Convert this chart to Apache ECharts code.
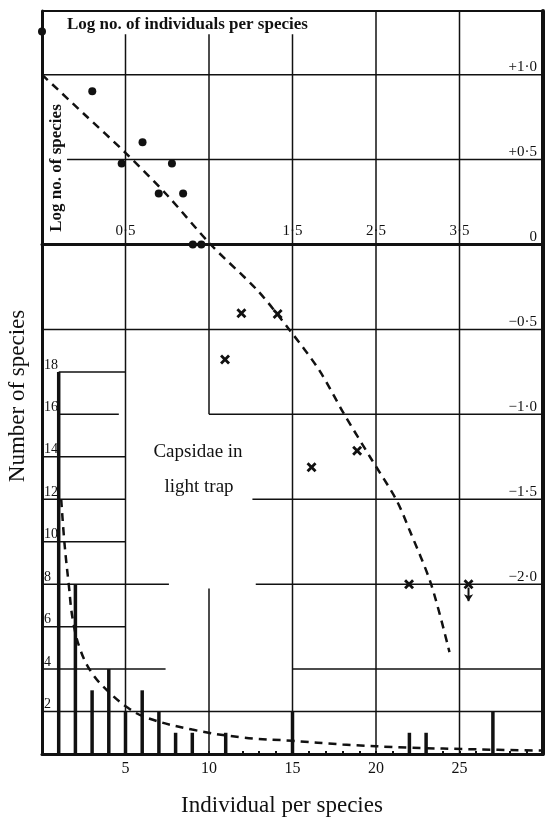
<!DOCTYPE html>
<html>
<head>
<meta charset="utf-8">
<script src="https://cdn.jsdelivr.net/npm/echarts@6/dist/echarts.min.js"></script>
<style>
html,body{margin:0;padding:0;background:#fff;}
#main{width:546px;height:817px;}
</style>
</head>
<body>
<div id="main"></div>
<script>
// lower plot: individuals per species vs number of species
var individuals = [1,2,3,4,5,6,7,8,9,10,11,12,13,14,15,16,17,18,19,20,21,22,23,24,25,26,27,28,29,30];
var speciesCount = [18,8,3,4,2,3,2,1,1,0,1,0,0,0,2,0,0,0,0,0,0,1,1,0,0,0,2,0,0,0];
// fitted curve (lower plot)
var fitX = [1.15,1.35,1.6,1.85,2.3,3.0,3.9,5.1,6.3,9,12,15,18,22,26,30];
var fitY = [12,9.9,8.0,6.3,4.9,3.8,3.0,2.2,1.7,1.15,0.78,0.62,0.45,0.3,0.22,0.16];
// upper plot: log individuals vs log species
var logDotX = [0,0.301,0.477,0.602,0.699,0.778,0.845,0.903,0.954];
var logDotY = [1.255,0.903,0.477,0.602,0.301,0.477,0.301,0,0];
var logCrossX = [1.096,1.194,1.411,1.614,1.887,2.198,2.554];
var logCrossY = [-0.677,-0.405,-0.409,-1.311,-1.214,-2.0,-2.0];
var logFitX = [0,0.25,0.5,0.75,1.01,1.29,1.48,1.66,1.81,1.97,2.12,2.2,2.33,2.44];
var logFitY = [1.0,0.77,0.54,0.29,0,-0.27,-0.5,-0.74,-1.0,-1.26,-1.5,-1.68,-2.0,-2.4];
// tick labels
var bottomLabels = {5:'5',10:'10',15:'15',20:'20',25:'25'};
var countLabels = {2:'2',4:'4',6:'6',8:'8',10:'10',12:'12',14:'14',16:'16',18:'18'};
var logXLabels = {'0.5':'0·5','1.5':'1·5','2':'2·5','2.5':'3·5'};
var logYLabels = {'1':'+1·0','0.5':'+0·5','0':'0','-0.5':'−0·5','-1':'−1·0','-1.5':'−1·5','-2':'−2·0'};
// ruled lines of the figure, in lower-plot units: [y, xFrom, xTo] and [x, yFrom, yTo]
var hRules = [[35,0,30],[32,0,30],[28,1.5,30],[20,0,30],[18,1,5],[16,1,4.6],[16,10,30],[14,0,5],[12,0,5],[12,12.6,30],[10,0,5],[8,0,7.6],[8,12.8,30],[6,0,5],[4,0,7.4],[4,15,30],[2,0,30]];
var vRules = [[5,0,33.9],[10,16,33.9],[10,0,7.8],[15,0,33.9],[20,0,35],[25,0,35]];

var FONT = '"Liberation Serif", "DejaVu Serif", serif';
var INK = '#111';
var W = 546, H = 817;
var gridBox = {left:42, right:2, top:11, bottom:63};
var yMax = 35, logZeroAt = 24; // log 0 line sits on count 24
var plotH = H - gridBox.top - gridBox.bottom;

var chart = echarts.init(document.getElementById('main'));

var series = [];
hRules.forEach(function(r){
  series.push({type:'line', data:[[r[1],r[0]],[r[2],r[0]]], symbol:'none', silent:true,
    lineStyle:{color:INK, width:(r[0]===35?2:1.5)}, animation:false});
});
vRules.forEach(function(r){
  series.push({type:'line', data:[[r[0],r[1]],[r[0],r[2]]], symbol:'none', silent:true,
    lineStyle:{color:INK, width:1.5}, animation:false});
});
var barData = [];
individuals.forEach(function(x,i){ if(speciesCount[i] > 0) barData.push([x, speciesCount[i]]); });
series.push({type:'bar', data:barData, barWidth:3.5, itemStyle:{color:INK}, animation:false});
series.push({type:'line', data:fitX.map(function(x,i){return [x,fitY[i]];}), smooth:0.4, symbol:'none',
  lineStyle:{color:INK, width:2.5, type:[8,6]}, animation:false});
series.push({type:'line', xAxisIndex:1, yAxisIndex:1, data:logFitX.map(function(x,i){return [x,logFitY[i]];}),
  smooth:0.3, symbol:'none', lineStyle:{color:INK, width:2.5, type:[8,6]}, animation:false});
series.push({type:'scatter', xAxisIndex:1, yAxisIndex:1, data:logDotX.map(function(x,i){return [x,logDotY[i]];}),
  symbol:'circle', symbolSize:8, itemStyle:{color:INK, opacity:1}, animation:false});
series.push({type:'scatter', xAxisIndex:1, yAxisIndex:1, data:logCrossX.map(function(x,i){return [x,logCrossY[i]];}),
  symbol:'path://M0,2L2,0L5,3L8,0L10,2L7,5L10,8L8,10L5,7L2,10L0,8L3,5Z', symbolSize:10, itemStyle:{color:INK, opacity:1}, animation:false});
// upper-limit arrow on the last cross
var lastX = logCrossX[logCrossX.length-1], lastY = logCrossY[logCrossY.length-1];
series.push({type:'line', xAxisIndex:1, yAxisIndex:1, showSymbol:true, animation:false,
  data:[{value:[lastX,lastY-0.02], symbol:'none'},{value:[lastX,lastY-0.1], symbol:'arrow', symbolRotate:180, symbolSize:[7,7]}],
  lineStyle:{color:INK, width:2}, itemStyle:{color:INK, opacity:1}});

var option = {
  backgroundColor:'#fff',
  grid:gridBox,
  xAxis:[{
    type:'value', min:0, max:30, interval:1, position:'bottom',
    axisLine:{onZero:false, lineStyle:{color:INK, width:3}},
    axisTick:{show:true, inside:true, length:3, interval:0, lineStyle:{color:INK, width:2}},
    axisLabel:{interval:0, margin:7, fontFamily:FONT, fontSize:16, color:INK,
      formatter:function(v){ return bottomLabels[v] || ''; }},
    splitLine:{show:false}
  },{
    // log axis drawn as the thick line across the middle of the frame
    type:'value', min:0, max:3, interval:0.5, position:'bottom',
    offset:-plotH * logZeroAt / yMax,
    axisLine:{onZero:false, lineStyle:{color:INK, width:3}},
    axisTick:{show:false},
    axisLabel:{inside:true, margin:6, fontFamily:FONT, fontSize:15, color:INK,
      formatter:function(v){ return logXLabels[String(v)] || ''; }},
    splitLine:{show:false}
  }],
  yAxis:[{
    type:'value', min:0, max:yMax, interval:2, position:'left',
    axisLine:{show:true, onZero:false, lineStyle:{color:INK, width:3}},
    axisTick:{show:false},
    axisLabel:{inside:true, margin:2, verticalAlign:'bottom', fontFamily:FONT, fontSize:14, color:INK,
      formatter:function(v){ return countLabels[v] || ''; }},
    splitLine:{show:false}
  },{
    type:'value', min:-logZeroAt/8, max:(yMax-logZeroAt)/8, interval:0.5, position:'right',
    axisLine:{show:true, onZero:false, lineStyle:{color:INK, width:4}},
    axisTick:{show:false},
    axisLabel:{inside:true, margin:6, verticalAlign:'bottom', fontFamily:FONT, fontSize:15, color:INK,
      formatter:function(v){ return logYLabels[String(v)] || ''; }},
    splitLine:{show:false}
  }],
  graphic:[
    {type:'text', x:18, y:396, rotation:Math.PI/2,
      style:{text:'Number of species', font:'23px ' + FONT, fill:INK, align:'center', verticalAlign:'middle'}},
    {type:'text', x:282, y:806,
      style:{text:'Individual per species', font:'23px ' + FONT, fill:INK, align:'center', verticalAlign:'middle'}},
    {type:'text', x:57, y:168, rotation:Math.PI/2,
      style:{text:'Log no. of species', font:'bold 17px ' + FONT, fill:INK, align:'center', verticalAlign:'middle'}},
    {type:'text', x:67, y:25,
      style:{text:'Log no. of individuals per species', font:'bold 17px ' + FONT, fill:INK, align:'left', verticalAlign:'middle'}},
    {type:'text', x:198, y:452,
      style:{text:'Capsidae in', font:'19px ' + FONT, fill:INK, align:'center', verticalAlign:'middle'}},
    {type:'text', x:199, y:487,
      style:{text:'light trap', font:'19px ' + FONT, fill:INK, align:'center', verticalAlign:'middle'}}
  ],
  series:series
};
chart.setOption(option);
</script>
</body>
</html>
